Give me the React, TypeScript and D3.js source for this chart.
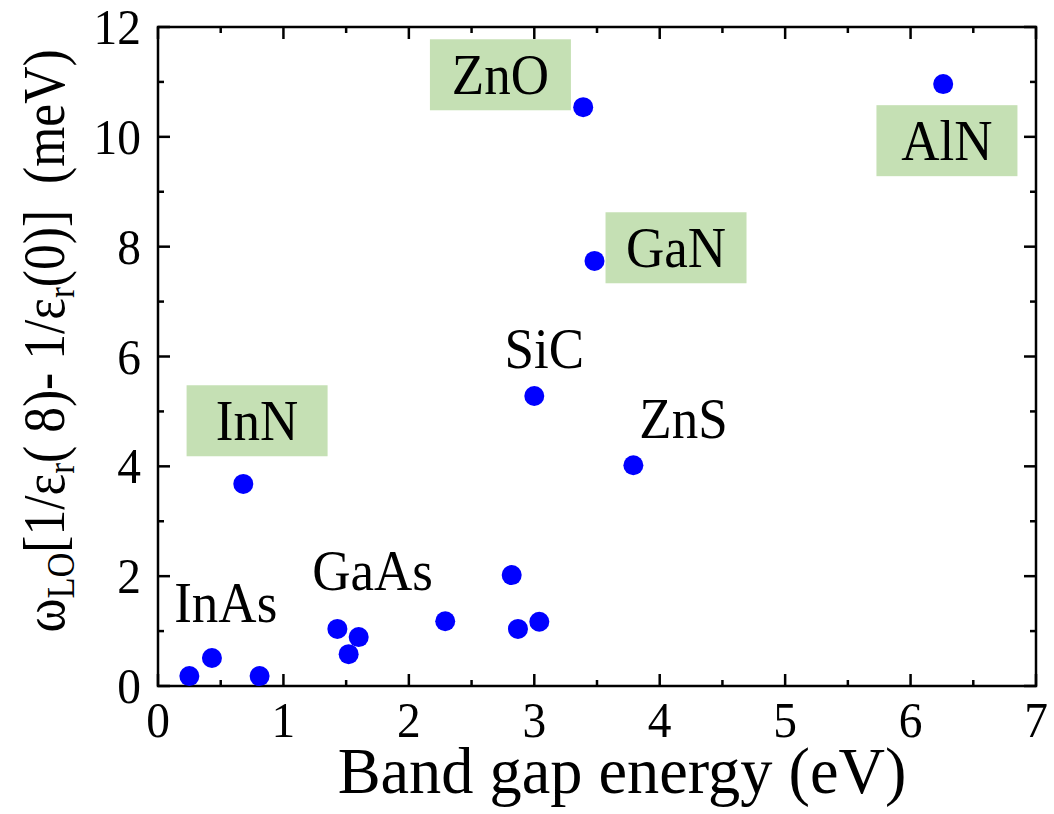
import React from "react";
import * as d3 from "d3";

// Data (band gap in eV, y in meV)
const bandGap = [0.25, 0.43, 0.81, 0.68, 1.43, 1.6, 1.52, 2.29, 2.82, 2.87, 3.04, 3.0, 3.39, 3.48, 3.79, 6.26];
const couplingMeV = [0.18, 0.51, 0.18, 3.68, 1.04, 0.89, 0.58, 1.18, 2.02, 1.04, 1.17, 5.28, 10.54, 7.74, 4.02, 10.96];

// Annotations (data units)
const labelText = ["ZnO", "GaN", "AlN", "InN", "InAs", "GaAs", "SiC", "ZnS"];
const labelX = [2.73, 4.13, 6.29, 0.79, 0.54, 1.71, 3.08, 4.19];
const labelY = [11.13, 7.98, 9.93, 4.83, 1.17, 1.75, 5.79, 4.52];
const labelBoxed = [true, true, true, true, false, false, false, false];

const xTicks = [0, 1, 2, 3, 4, 5, 6, 7];
const yTicks = [0, 2, 4, 6, 8, 10, 12];

const W = 1054;
const H = 814;
const FONT = "'Liberation Serif', 'Times New Roman', serif";

function T({ x, y, sx = 0.93, fs, anchor = "middle", children }: any) {
  return (
    <text transform={`translate(${x},${y}) scale(${sx},1)`} fontSize={fs} textAnchor={anchor} fill="#000">
      {children}
    </text>
  );
}

export default function App() {
  const left = 158, right = 1036, top = 27, bottom = 686;
  const x = d3.scaleLinear().domain([0, 7]).range([left, right]);
  const y = d3.scaleLinear().domain([0, 12]).range([bottom, top]);

  const xMinor = d3.range(0.5, 7, 1);
  const yMinor = d3.range(1, 12, 2);
  const majorLen = 12, minorLen = 6;
  const sw = 2.5;

  return (
    <svg width={W} height={H} style={{ position: "absolute", left: 0, top: 0, background: "#fff" }} fontFamily={FONT}>
      <rect x={0} y={0} width={W} height={H} fill="#fff" />
      {/* label boxes */}
      {labelText.map((t, i) =>
        labelBoxed[i] ? (
          <rect key={"b" + i} x={x(labelX[i]) - 70.5} y={y(labelY[i]) - 35.5} width={141} height={71} fill="#c5e0b4" />
        ) : null
      )}
      {labelText.map((t, i) => (
        <T key={"t" + i} x={x(labelX[i])} y={labelBoxed[i] ? y(labelY[i]) + 19 : y(labelY[i])} fs={57}>
          {t}
        </T>
      ))}
      {/* frame */}
      <rect x={left} y={top} width={right - left} height={bottom - top} fill="none" stroke="#000" strokeWidth={sw} />
      {/* x ticks */}
      {xTicks.map((v) => (
        <g key={"xt" + v}>
          <line x1={x(v)} x2={x(v)} y1={bottom} y2={bottom - majorLen} stroke="#000" strokeWidth={sw} />
          <line x1={x(v)} x2={x(v)} y1={top} y2={top + majorLen} stroke="#000" strokeWidth={sw} />
          <T x={x(v)} y={bottom + 51} fs={51}>{v}</T>
        </g>
      ))}
      {xMinor.map((v) => (
        <g key={"xm" + v}>
          <line x1={x(v)} x2={x(v)} y1={bottom} y2={bottom - minorLen} stroke="#000" strokeWidth={sw} />
          <line x1={x(v)} x2={x(v)} y1={top} y2={top + minorLen} stroke="#000" strokeWidth={sw} />
        </g>
      ))}
      {yTicks.map((v) => (
        <g key={"yt" + v}>
          <line x1={left} x2={left + majorLen} y1={y(v)} y2={y(v)} stroke="#000" strokeWidth={sw} />
          <line x1={right} x2={right - majorLen} y1={y(v)} y2={y(v)} stroke="#000" strokeWidth={sw} />
          <T x={141} y={y(v) + 17} fs={51} anchor="end">{v}</T>
        </g>
      ))}
      {yMinor.map((v) => (
        <g key={"ym" + v}>
          <line x1={left} x2={left + minorLen} y1={y(v)} y2={y(v)} stroke="#000" strokeWidth={sw} />
          <line x1={right} x2={right - minorLen} y1={y(v)} y2={y(v)} stroke="#000" strokeWidth={sw} />
        </g>
      ))}
      {/* points */}
      {bandGap.map((g, i) => (
        <circle key={"p" + i} cx={x(g)} cy={y(couplingMeV[i])} r={10} fill="#0000ff" />
      ))}
      {/* axis titles */}
      <T x={622} y={793} fs={66} sx={0.975}>Band gap energy (eV)</T>
      <text transform="translate(64,341) rotate(-90) scale(0.86,1)" fontSize={60} textAnchor="middle" style={{ whiteSpace: "pre" }}>
        <tspan>ω</tspan>
        <tspan fontSize={40} dy={10}>LO</tspan>
        <tspan dy={-10}>[1/ε</tspan>
        <tspan fontSize={38} dy={10}>r</tspan>
        <tspan dy={-10}>( 8)- 1/ε</tspan>
        <tspan fontSize={38} dy={10}>r</tspan>
        <tspan dy={-10}>(0)]  (meV)</tspan>
      </text>
    </svg>
  );
}
